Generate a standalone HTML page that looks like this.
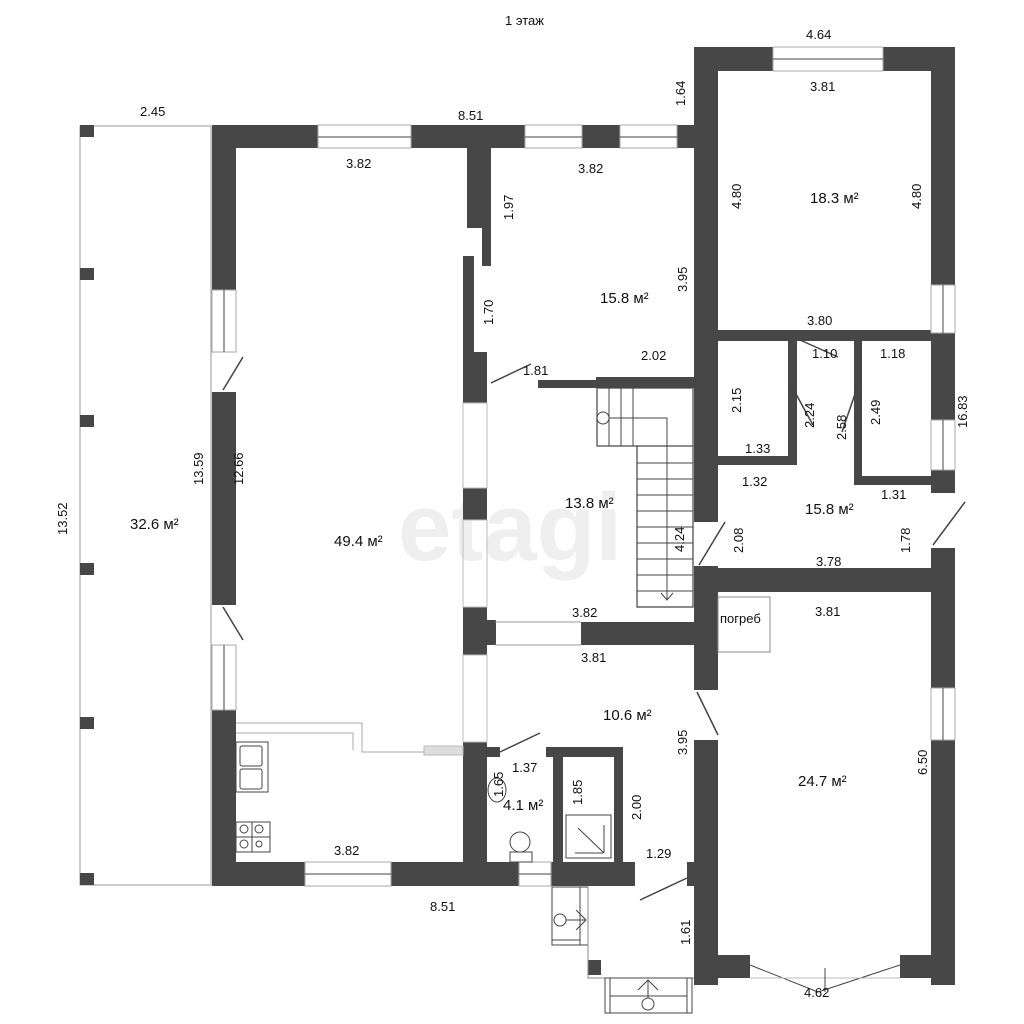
<!DOCTYPE html>
<html><head><meta charset="utf-8"><style>
html,body{margin:0;padding:0;background:#fff;}
svg{display:block}
text{font-family:"Liberation Sans",sans-serif;fill:#111;}
.d{font-size:13px;}
.a{font-size:15px;}
</style></head><body>
<svg width="1024" height="1024" viewBox="0 0 1024 1024" xmlns="http://www.w3.org/2000/svg">
<text x="505" y="25" class="d" font-size="14">1 этаж</text>
<text x="510" y="560" font-size="96" font-weight="bold" fill="#f0f0f0" style="fill:#efefef" text-anchor="middle">etagi</text>

<!-- terrace -->
<rect x="80" y="126" width="131" height="759" fill="none" stroke="#999" stroke-width="1"/>
<g fill="#474747">
<rect x="80" y="125" width="14" height="12"/><rect x="80" y="268" width="14" height="12"/><rect x="80" y="415" width="14" height="12"/>
<rect x="80" y="563" width="14" height="12"/><rect x="80" y="717" width="14" height="12"/><rect x="80" y="873" width="14" height="12"/>
</g>

<g fill="#474747">
<!-- top wall left block -->
<rect x="212" y="125" width="483" height="23"/>
<!-- left wall -->
<rect x="212" y="125" width="24" height="760"/>
<!-- bottom wall -->
<rect x="212" y="862" width="483" height="24"/>
<!-- right block walls -->
<rect x="694" y="47" width="261" height="24"/>
<rect x="694" y="47" width="24" height="938"/>
<rect x="931" y="47" width="24" height="938"/>
<rect x="694" y="568" width="261" height="24"/>
<rect x="694" y="955" width="56" height="23"/>
<rect x="900" y="955" width="55" height="23"/>
<!-- mid horizontal wall right -->
<rect x="718" y="330" width="214" height="11"/>
<rect x="788" y="340" width="9" height="125"/>
<rect x="718" y="456" width="79" height="9"/>
<rect x="854" y="340" width="8" height="145"/>
<rect x="854" y="476" width="78" height="9"/>
<!-- 49.4 / 15.8 separation -->
<rect x="467" y="148" width="24" height="80"/>
<rect x="482" y="228" width="9" height="38"/>
<rect x="463" y="256" width="11" height="100"/>
<rect x="463" y="352" width="24" height="51"/>
<rect x="463" y="488" width="24" height="32"/>
<rect x="463" y="607" width="24" height="48"/>
<rect x="487" y="620" width="9" height="25"/>
<rect x="463" y="742" width="24" height="120"/>
<!-- under 15.8 -->
<rect x="538" y="380" width="60" height="8"/>
<rect x="596" y="377" width="99" height="11"/>
<!-- between 13.8 and 10.6 -->
<rect x="581" y="622" width="114" height="23"/>
<!-- bath -->
<rect x="487" y="747" width="13" height="10"/>
<rect x="546" y="747" width="77" height="10"/>
<rect x="553" y="747" width="10" height="115"/>
<rect x="614" y="747" width="9" height="115"/>
<!-- vestibule block -->
<rect x="588" y="960" width="13" height="15"/>
</g>

<!-- openings (white) -->
<g fill="#fff">
<rect x="318" y="125" width="93" height="23"/>
<rect x="525" y="125" width="57" height="23"/>
<rect x="620" y="125" width="57" height="23"/>
<rect x="773" y="47" width="110" height="24"/>
<rect x="212" y="290" width="24" height="102"/>
<rect x="212" y="605" width="24" height="105"/>
<rect x="305" y="862" width="86" height="24"/>
<rect x="519" y="862" width="32" height="24"/>
<rect x="635" y="862" width="52" height="24"/>
<rect x="931" y="285" width="24" height="48"/>
<rect x="931" y="420" width="24" height="50"/>
<rect x="931" y="493" width="24" height="55"/>
<rect x="931" y="688" width="24" height="52"/>
<rect x="694" y="522" width="24" height="44"/>
<rect x="694" y="690" width="24" height="50"/>
<rect x="694" y="872" width="24" height="40" fill="none"/>
<rect x="750" y="955" width="150" height="23"/>
</g>
<!-- window frame lines -->
<g stroke="#444" stroke-width="1" fill="none">
<rect x="318" y="125" width="93" height="23" stroke="#aaa"/><line x1="318" y1="137" x2="411" y2="137"/>
<rect x="525" y="125" width="57" height="23" stroke="#aaa"/><line x1="525" y1="137" x2="582" y2="137"/>
<rect x="620" y="125" width="57" height="23" stroke="#aaa"/><line x1="620" y1="137" x2="677" y2="137"/>
<rect x="773" y="47" width="110" height="24" stroke="#aaa"/><line x1="773" y1="59" x2="883" y2="59"/>
<rect x="212" y="290" width="24" height="62" stroke="#aaa"/><line x1="224" y1="290" x2="224" y2="352"/>
<rect x="212" y="645" width="24" height="65" stroke="#aaa"/><line x1="224" y1="645" x2="224" y2="710"/>
<rect x="305" y="862" width="86" height="24" stroke="#aaa"/><line x1="305" y1="874" x2="391" y2="874"/>
<rect x="519" y="862" width="32" height="24" stroke="#aaa"/><line x1="519" y1="874" x2="551" y2="874"/>
<rect x="931" y="285" width="24" height="48" stroke="#aaa"/><line x1="943" y1="285" x2="943" y2="333"/>
<rect x="931" y="420" width="24" height="50" stroke="#aaa"/><line x1="943" y1="420" x2="943" y2="470"/>
<rect x="931" y="688" width="24" height="52" stroke="#aaa"/><line x1="943" y1="688" x2="943" y2="740"/>
<!-- glass partition near 49.4 -->
<rect x="463" y="403" width="24" height="85" stroke="#bbb"/>
<rect x="463" y="520" width="24" height="87" stroke="#bbb"/>
<rect x="463" y="655" width="24" height="87" stroke="#bbb"/>
<line x1="495" y1="622" x2="581" y2="622" stroke="#999"/><line x1="495" y1="645" x2="581" y2="645" stroke="#999"/>
<!-- bay window -->
<line x1="750" y1="965" x2="818" y2="992"/><line x1="818" y1="992" x2="900" y2="965"/>
<line x1="750" y1="978" x2="900" y2="978" stroke="#bbb"/>
<line x1="825" y1="968" x2="825" y2="992"/>
<!-- doors -->
<line x1="223" y1="390" x2="243" y2="357" stroke-width="1.5"/>
<line x1="223" y1="607" x2="243" y2="640" stroke-width="1.5"/>
<line x1="491" y1="383" x2="531" y2="364" stroke-width="1.5"/>
<line x1="697" y1="692" x2="718" y2="735" stroke-width="1.5"/>
<line x1="699" y1="565" x2="725" y2="522" stroke-width="1.5"/>
<line x1="933" y1="545" x2="965" y2="502" stroke-width="1.5"/>
<line x1="800" y1="340" x2="838" y2="357" stroke-width="1.5"/>
<line x1="791" y1="385" x2="813" y2="425" stroke-width="1.5"/>
<line x1="857" y1="388" x2="842" y2="432" stroke-width="1.5"/>
<line x1="500" y1="752" x2="540" y2="733" stroke-width="1.5"/>
<line x1="640" y1="900" x2="687" y2="878" stroke-width="1.5"/>
<!-- kitchen counter -->
<path d="M236 723 H362 V752 H425" stroke="#aaa"/><path d="M236 733 H353 V750" stroke="#aaa"/>
<rect x="424" y="746" width="39" height="9" fill="#ddd" stroke="#bbb"/>
<rect x="236" y="742" width="32" height="50"/><rect x="240" y="746" width="22" height="20" rx="2"/><rect x="240" y="769" width="22" height="20" rx="2"/>
<rect x="236" y="822" width="34" height="30"/><line x1="252" y1="822" x2="252" y2="852"/><line x1="236" y1="837" x2="270" y2="837"/>
<circle cx="244" cy="829" r="4"/><circle cx="259" cy="829" r="4"/><circle cx="244" cy="844" r="4"/><circle cx="259" cy="844" r="3"/>
<!-- pogreb -->
<rect x="718" y="597" width="52" height="55" stroke="#888"/>
<!-- stairs -->
<rect x="597" y="388" width="96" height="58" stroke-width="1.2"/>
<path d="M637 446 V607 H693 V446" stroke-width="1.2"/>
<line x1="609" y1="388" x2="609" y2="446"/><line x1="621" y1="388" x2="621" y2="446"/><line x1="633" y1="388" x2="633" y2="446"/>
<line x1="637" y1="463" x2="693" y2="463"/><line x1="637" y1="479" x2="693" y2="479"/><line x1="637" y1="495" x2="693" y2="495"/>
<line x1="637" y1="511" x2="693" y2="511"/><line x1="637" y1="527" x2="693" y2="527"/><line x1="637" y1="543" x2="693" y2="543"/>
<line x1="637" y1="559" x2="693" y2="559"/><line x1="637" y1="575" x2="693" y2="575"/><line x1="637" y1="591" x2="693" y2="591"/>
<circle cx="603" cy="418" r="6"/><path d="M609 418 H667 V600 M661 593 L667 600 L673 593"/>
<!-- bathroom fixtures -->
<ellipse cx="497" cy="790" rx="9" ry="12"/>
<ellipse cx="520" cy="842" rx="10" ry="10"/><rect x="510" y="852" width="22" height="10"/>
<rect x="566" y="815" width="45" height="43"/>
<line x1="578" y1="828" x2="604" y2="853"/><line x1="604" y1="825" x2="604" y2="853"/><line x1="575" y1="853" x2="603" y2="853"/>
<!-- small stair west of entry -->
<rect x="552" y="887" width="36" height="58"/><line x1="580" y1="887" x2="580" y2="945"/><line x1="552" y1="940" x2="580" y2="940"/>
<circle cx="560" cy="920" r="6"/><path d="M566 920 H586 M576 910 L586 920 L576 930"/>
<!-- vestibule -->
<path d="M588 887 V978 H694" stroke="#888"/>
<rect x="605" y="978" width="87" height="35"/><line x1="610" y1="978" x2="610" y2="1013"/><line x1="687" y1="978" x2="687" y2="1013"/>
<line x1="610" y1="996" x2="687" y2="996"/>
<circle cx="648" cy="1004" r="6"/><path d="M648 998 V980 M638 990 L648 980 L658 990"/>
</g>

<!-- dimension labels -->
<g class="d">
<text x="140" y="116" class="d">2.45</text>
<text x="458" y="120" class="d">8.51</text>
<text x="346" y="168" class="d">3.82</text>
<text x="578" y="173" class="d">3.82</text>
<text x="806" y="39" class="d">4.64</text>
<text x="810" y="91" class="d">3.81</text>
<text x="807" y="325" class="d">3.80</text>
<text x="812" y="358" class="d">1.10</text>
<text x="880" y="358" class="d">1.18</text>
<text x="745" y="453" class="d">1.33</text>
<text x="742" y="486" class="d">1.32</text>
<text x="881" y="499" class="d">1.31</text>
<text x="816" y="566" class="d">3.78</text>
<text x="815" y="616" class="d">3.81</text>
<text x="572" y="617" class="d">3.82</text>
<text x="581" y="662" class="d">3.81</text>
<text x="523" y="375" class="d">1.81</text>
<text x="641" y="360" class="d">2.02</text>
<text x="512" y="772" class="d">1.37</text>
<text x="646" y="858" class="d">1.29</text>
<text x="334" y="855" class="d">3.82</text>
<text x="430" y="911" class="d">8.51</text>
<text x="804" y="997" class="d">4.62</text>
<text x="720" y="623" class="d" font-size="14">погреб</text>
</g>
<g class="d">
<text transform="translate(685,106) rotate(-90)" class="d">1.64</text>
<text transform="translate(741,209) rotate(-90)" class="d">4.80</text>
<text transform="translate(921,209) rotate(-90)" class="d">4.80</text>
<text transform="translate(513,220) rotate(-90)" class="d">1.97</text>
<text transform="translate(687,292) rotate(-90)" class="d">3.95</text>
<text transform="translate(493,325) rotate(-90)" class="d">1.70</text>
<text transform="translate(741,413) rotate(-90)" class="d">2.15</text>
<text transform="translate(814,428) rotate(-90)" class="d">2.24</text>
<text transform="translate(846,440) rotate(-90)" class="d">2.58</text>
<text transform="translate(880,425) rotate(-90)" class="d">2.49</text>
<text transform="translate(967,428) rotate(-90)" class="d">16.83</text>
<text transform="translate(743,553) rotate(-90)" class="d">2.08</text>
<text transform="translate(910,553) rotate(-90)" class="d">1.78</text>
<text transform="translate(684,552) rotate(-90)" class="d">4.24</text>
<text transform="translate(203,485) rotate(-90)" class="d">13.59</text>
<text transform="translate(243,485) rotate(-90)" class="d">12.66</text>
<text transform="translate(67,535) rotate(-90)" class="d">13.52</text>
<text transform="translate(687,755) rotate(-90)" class="d">3.95</text>
<text transform="translate(927,775) rotate(-90)" class="d">6.50</text>
<text transform="translate(641,820) rotate(-90)" class="d">2.00</text>
<text transform="translate(582,805) rotate(-90)" class="d">1.85</text>
<text transform="translate(503,797) rotate(-90)" class="d">1.65</text>
<text transform="translate(690,945) rotate(-90)" class="d">1.61</text>
</g>
<!-- area labels -->
<g class="a">
<text x="810" y="203" class="a">18.3 м²</text>
<text x="600" y="303" class="a">15.8 м²</text>
<text x="565" y="508" class="a">13.8 м²</text>
<text x="805" y="514" class="a">15.8 м²</text>
<text x="334" y="546" class="a">49.4 м²</text>
<text x="130" y="529" class="a">32.6 м²</text>
<text x="603" y="720" class="a">10.6 м²</text>
<text x="798" y="786" class="a">24.7 м²</text>
<text x="503" y="810" class="a">4.1 м²</text>
</g>
</svg>
</body></html>
